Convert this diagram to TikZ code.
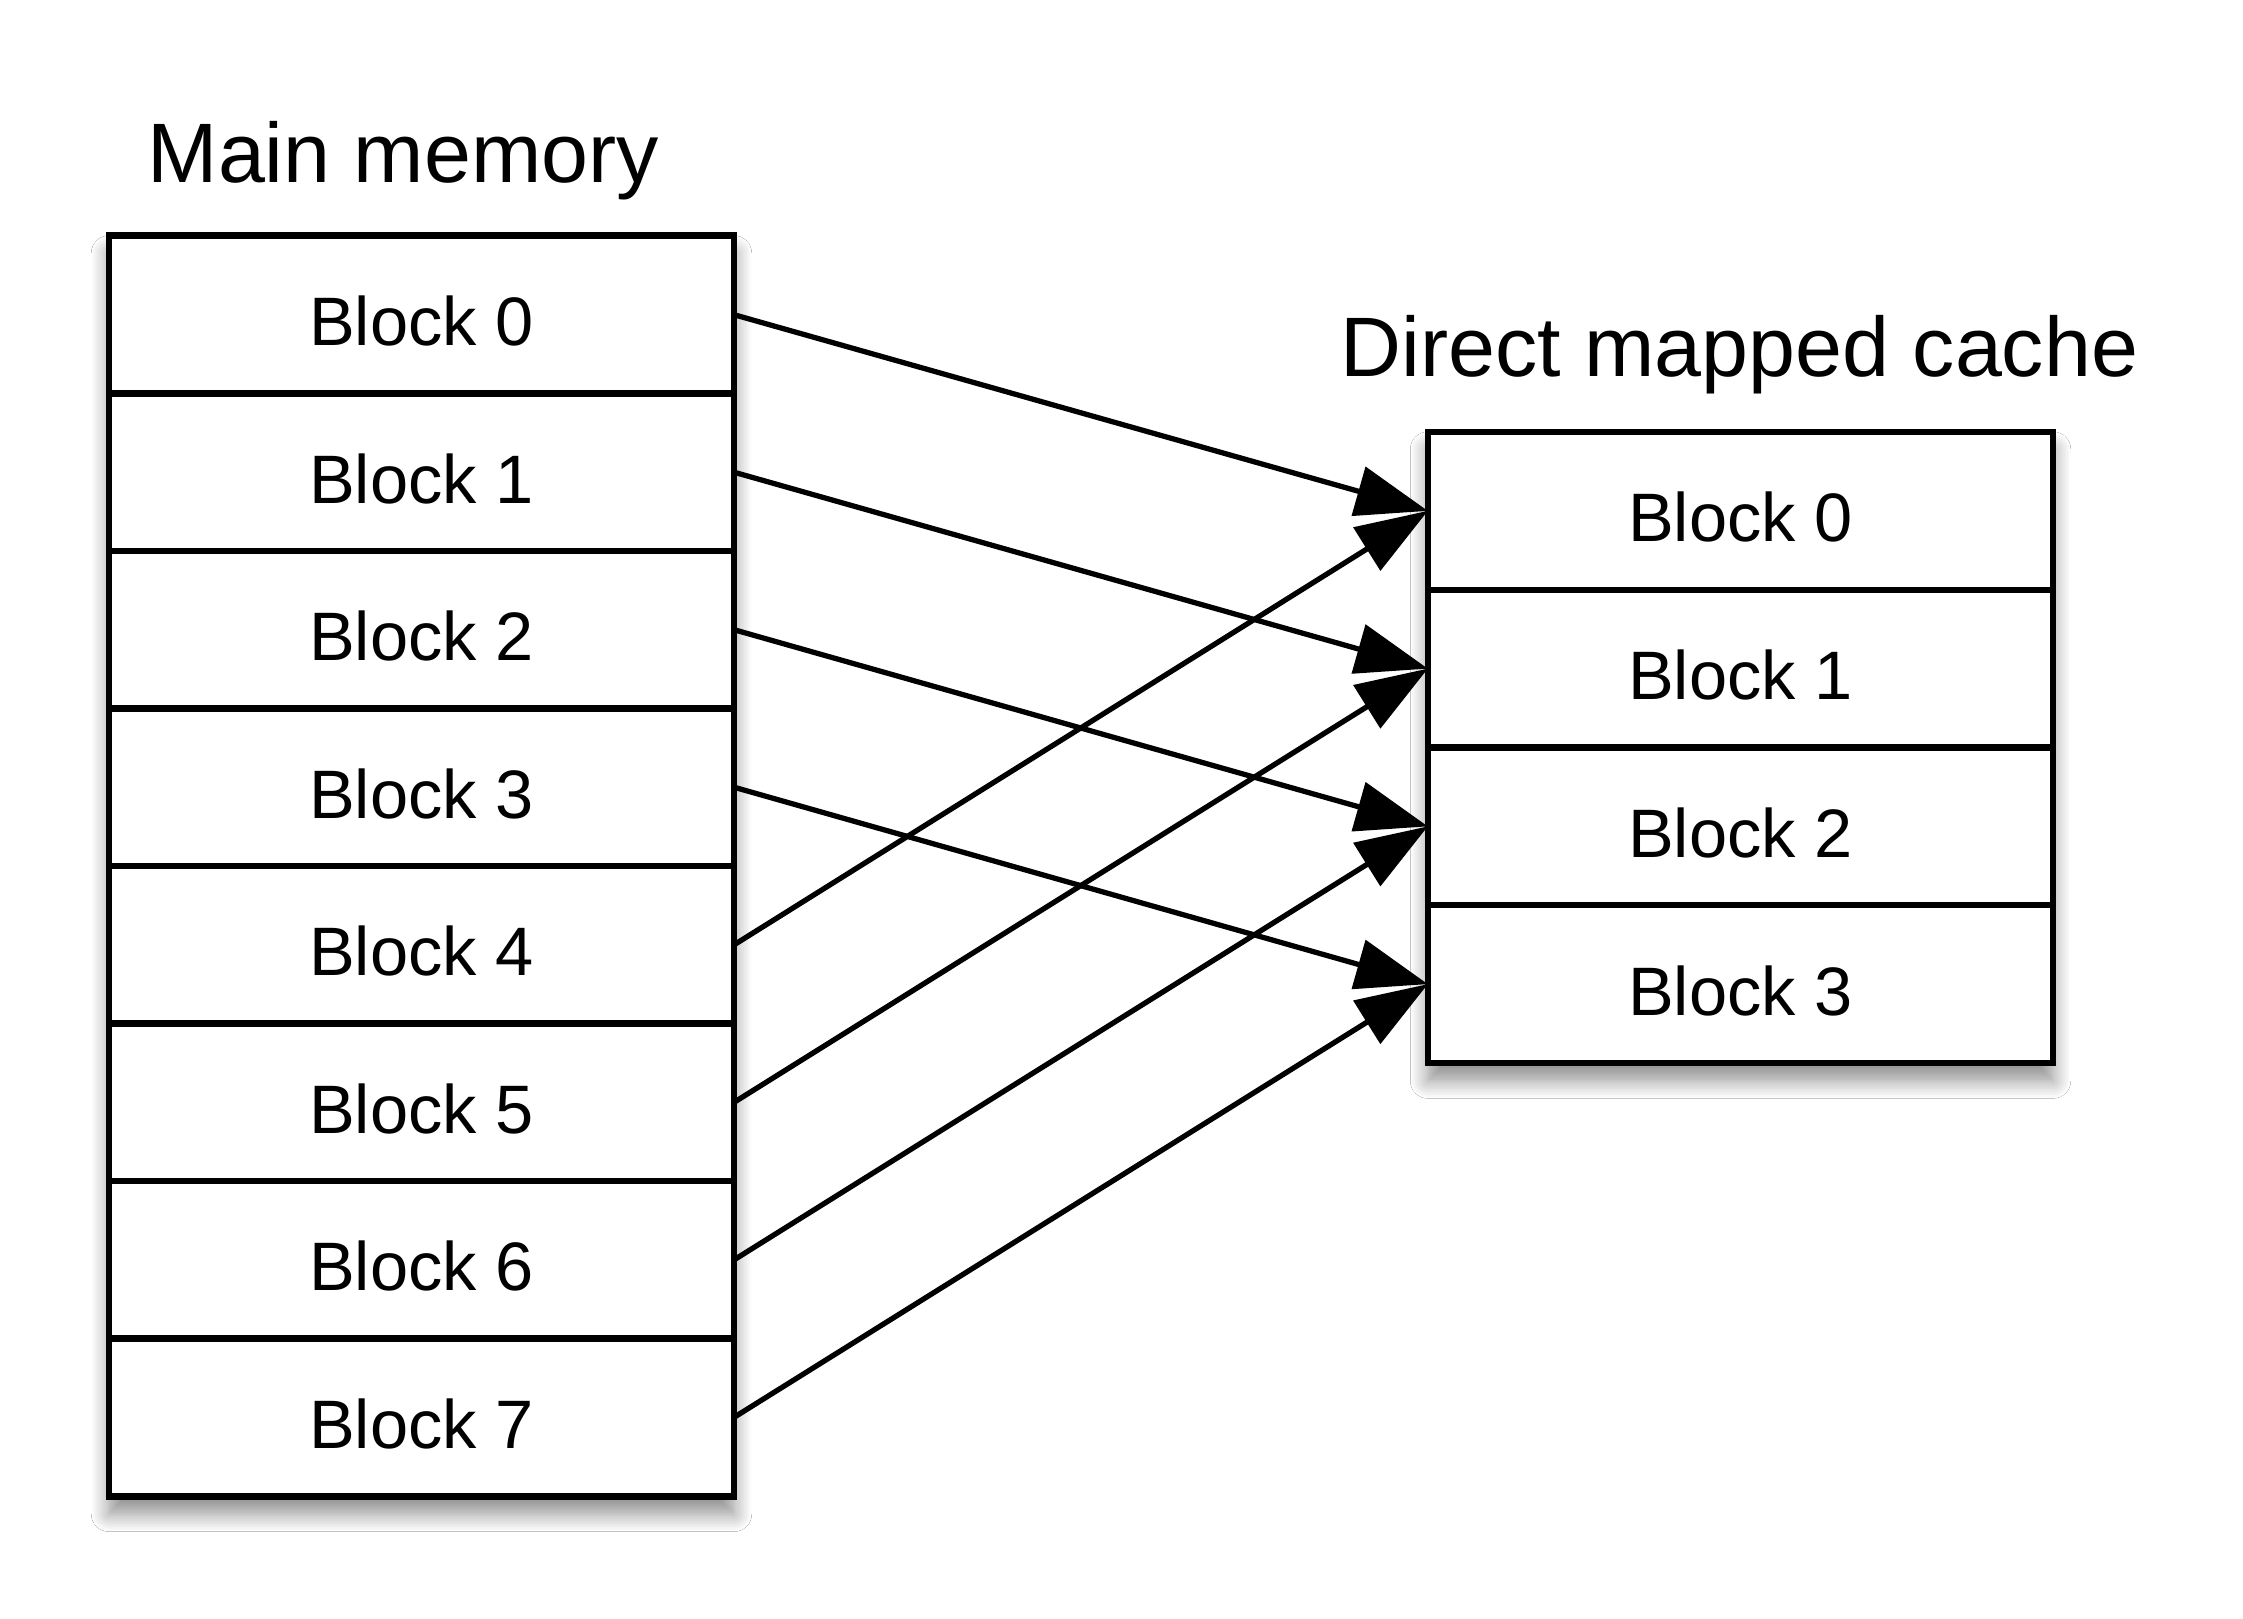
\documentclass[tikz,border=0pt]{standalone}
\usepackage{fontspec}
\setmainfont{Liberation Sans}
\usetikzlibrary{arrows.meta,shadows.blur}
\begin{document}
\begin{tikzpicture}[x=0.01cm,y=-0.01cm,
 cell/.style={draw, line width=1.8pt, minimum width=6.25cm, minimum height=1.575cm, inner sep=0pt, outer sep=0pt, font=\fontsize{19.5}{23}\selectfont, text height=17.6pt, text depth=0pt, fill=white},
 frame/.style={draw, line width=1.8pt, fill=white, blur shadow={shadow xshift=0pt, shadow yshift=-5pt, shadow blur radius=5pt, shadow blur steps=12, shadow opacity=45}, inner sep=0pt, outer sep=0pt},
 title/.style={anchor=base west, inner sep=0pt, font=\fontsize{24}{28}\selectfont},
 map/.style={line width=1.5pt, -{Triangle[length=7.2mm,width=5mm]}}]
\useasboundingbox (0,0) rectangle (2243,1618);
\fill[white] (0,0) rectangle (2243,1618);
\node[title] (t1) at (147,182) {Main memory};
\node[title] (t2) at (1340,376) {Direct mapped cache};
\node[frame, minimum width=6.25cm, minimum height=12.6cm] (memframe) at (421.5,866) {};
\node[frame, minimum width=6.25cm, minimum height=6.31cm] (cacheframe) at (1740.5,747.5) {};
\foreach \i in {0,...,7} {
  \node[cell] (m\i) at (421.5,{236+157.5*(\i+0.5)}) {Block \i};
}
\foreach \j in {0,...,3} {
  \node[cell, minimum height=1.5775cm] (c\j) at (1740.5,{432+157.75*(\j+0.5)}) {Block \j};
}
\foreach \i in {0,...,7} {
  \pgfmathtruncatemacro\j{mod(\i,4)}
  \draw[map] (m\i.east) -- (c\j.west);
}
\end{tikzpicture}
\end{document}
